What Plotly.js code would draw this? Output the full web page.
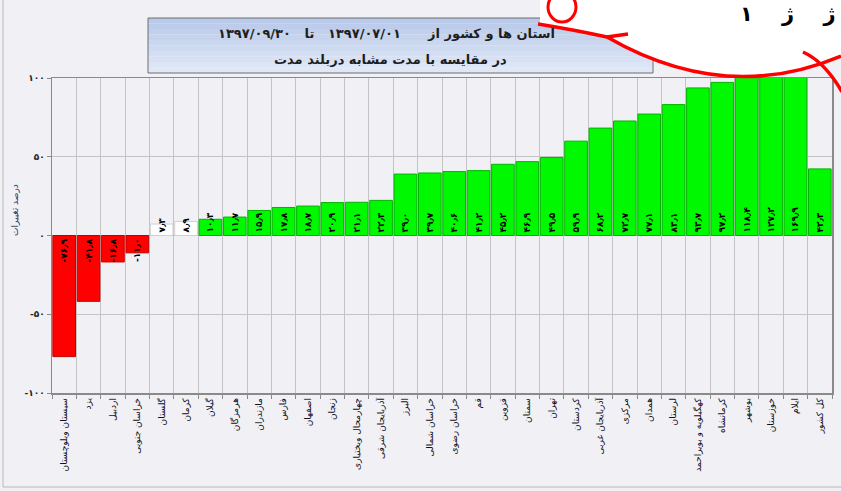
<!DOCTYPE html>
<html><head><meta charset="utf-8">
<script src="https://cdn.plot.ly/plotly-3.0.1.min.js"></script>
<style>html,body{margin:0;padding:0;background:#f1f0f5}</style>
</head><body>
<div id="chart" style="width:841px;height:491px"></div>
<script>
// ---- data ----
const provinces = ["سیستان وبلوچستان","یزد","اردبیل","خراسان جنوبی","گلستان","کرمان","گیلان","هرمزگان","مازندران","فارس","اصفهان","زنجان","چهارمحال وبختیاری","آذربایجان شرقی","البرز","خراسان شمالی","خراسان رضوی","قم","قزوین","سمنان","تهران","کردستان","آذربایجان غربی","مرکزی","همدان","لرستان","کهگیلویه و بویراحمد","کرمانشاه","بوشهر","خوزستان","ایلام","کل کشور"];
const changePct = [-76.9,-41.8,-16.8,-11.0,7.3,8.9,10.3,11.7,15.9,17.8,18.7,20.9,21.1,22.3,39.0,39.7,40.6,41.2,45.2,46.9,49.5,59.9,68.2,72.7,77.1,83.1,93.7,97.2,118.4,127.2,169.9,42.3];
const yTickVals = [-100,-50,0,50,100];
const titleLine1 = "استان ها و کشور از      ۱۳۹۷/۰۷/۰۱   تا   ۱۳۹۷/۰۹/۳۰";
const titleLine2 = "در مقایسه با مدت مشابه دربلند مدت";
const yTitle = "درصد تغییرات";
const overlayText = "ژ    ژ    ۱";

// ---- helpers ----
const faDigits = "۰۱۲۳۴۵۶۷۸۹";
function toFa(s){ return String(s).replace(/[0-9]/g, d => faDigits[+d]).replace(".", "٫"); }
const yTickText = yTickVals.map(v => toFa(v));
const labels = changePct.map(v => toFa(v.toFixed(1)));
const fills = changePct.map(v => v < 0 ? "#ff0000" : (v < 10 ? "#ffffff" : "#00f800"));
const edges = changePct.map(v => v < 0 ? "#c00000" : (v < 10 ? "#d0d0d0" : "#00b400"));

// pixel -> paper (plot area: x 52..832, y 78..393)
const L=52, R=832, T=78, B=393;
const px = x => (x-L)/(R-L);
const py = y => (B-y)/(B-T);

const FONT = "DejaVu Sans";
const shapes = [];
// title box gradient strips
const bx0=148, bx1=653, by0=18, by1=73, nStrip=10;
const c0=[184,201,233], c1=[224,232,246];
for(let i=0;i<nStrip;i++){
  const t=i/(nStrip-1);
  const c=c0.map((a,k)=>Math.round(a+(c1[k]-a)*t));
  shapes.push({type:"rect",xref:"paper",yref:"paper",layer:"above",
    x0:px(bx0),x1:px(bx1),y0:py(by0+(by1-by0)*i/nStrip),y1:py(by0+(by1-by0)*(i+1)/nStrip),
    fillcolor:`rgb(${c.join(",")})`,line:{width:0}});
}
shapes.push({type:"rect",xref:"paper",yref:"paper",layer:"above",
  x0:px(bx0),x1:px(bx1),y0:py(by1),y1:py(by0),fillcolor:"rgba(0,0,0,0)",line:{color:"#6e6e6e",width:1}});
// outer frame
shapes.push({type:"line",xref:"paper",yref:"paper",x0:px(3),x1:px(3),y0:py(0),y1:py(487),line:{color:"#b8b8b8",width:1}});
shapes.push({type:"line",xref:"paper",yref:"paper",x0:px(3),x1:px(841),y0:py(487),y1:py(487),line:{color:"#b8b8b8",width:1}});
// overlay scribble (white patch with red outline)
const P=(x,y)=>`${px(x)},${py(y)}`;
shapes.push({type:"path",xref:"paper",yref:"paper",layer:"above",
  path:`M ${P(540,-5)} L ${P(540,24)} Q ${P(575,30)} ${P(607,37)} Q ${P(725,105)} ${P(841,56)} L ${P(841,-5)} Z`,
  fillcolor:"#ffffff",line:{width:0}});
shapes.push({type:"path",xref:"paper",yref:"paper",layer:"above",
  path:`M ${P(538,24)} Q ${P(575,30)} ${P(607,37)} Q ${P(725,105)} ${P(841,56)}`,
  line:{color:"#ff0000",width:3.5}});
shapes.push({type:"path",xref:"paper",yref:"paper",layer:"above",
  path:`M ${P(607,37)} L ${P(628,34)}`,line:{color:"#ff0000",width:3.5}});
shapes.push({type:"path",xref:"paper",yref:"paper",layer:"above",
  path:`M ${P(803,52)} Q ${P(825,62)} ${P(842,92)}`,line:{color:"#ff0000",width:3.5}});
shapes.push({type:"circle",xref:"paper",yref:"paper",layer:"above",
  x0:px(548),x1:px(576),y0:py(-8),y1:py(22),line:{color:"#ff0000",width:3},fillcolor:"rgba(0,0,0,0)"});

const annotations = [
  {xref:"paper",yref:"paper",x:px(557),y:py(33),xanchor:"right",yanchor:"middle",showarrow:false,
   text:titleLine1,font:{family:FONT,size:13,weight:"bold",color:"#1e1e1e"}},
  {xref:"paper",yref:"paper",x:px(390),y:py(59),xanchor:"center",yanchor:"middle",showarrow:false,
   text:titleLine2,font:{family:FONT,size:13,weight:"bold",color:"#1e1e1e"}},
  {xref:"paper",yref:"paper",x:px(15),y:py(210),xanchor:"center",yanchor:"middle",showarrow:false,
   textangle:-90,text:yTitle,font:{family:FONT,size:9,color:"#2a3560"}},
  {xref:"paper",yref:"paper",x:px(838),y:py(0),xanchor:"right",yanchor:"top",showarrow:false,
   text:"<b>"+overlayText+"</b>",font:{family:FONT,size:21,color:"#000000"}}
];

const trace = {
  type:"bar", x:provinces, y:changePct, text:labels,
  textposition:"inside", insidetextanchor:"start", textangle:-90, constraintext:"none",
  textfont:{family:FONT,size:9,weight:"bold",color:"#000000"},
  marker:{color:fills,line:{color:edges,width:1}},
  hoverinfo:"skip", cliponaxis:true
};

const layout = {
  width:841, height:491,
  margin:{l:L,r:841-R,t:T,b:491-B,pad:0},
  paper_bgcolor:"#f1f0f5", plot_bgcolor:"#f1f0f5",
  bargap:0.07, showlegend:false,
  font:{family:FONT,color:"#222"},
  xaxis:{type:"category",tickson:"boundaries",showgrid:true,gridcolor:"#c4c4c4",gridwidth:1,
    ticks:"outside",ticklen:4,tickcolor:"#8a8a8a",tickangle:-90,
    tickfont:{family:FONT,size:9,color:"#101020"},
    showline:true,linecolor:"#8a8a8a",linewidth:1.5,mirror:true,automargin:false},
  yaxis:{range:[-100,100],tickvals:yTickVals,ticktext:yTickText,showgrid:true,gridcolor:"#c4c4c4",
    zeroline:true,zerolinecolor:"#b4b4b4",zerolinewidth:1,
    ticks:"outside",ticklen:4,tickcolor:"#8a8a8a",
    tickfont:{family:FONT,size:9,weight:"bold",color:"#222"},
    showline:true,linecolor:"#8a8a8a",linewidth:1.5,mirror:true,automargin:false},
  shapes:shapes, annotations:annotations
};

Plotly.newPlot("chart",[trace],layout,{displayModeBar:false,staticPlot:true});
</script>
</body></html>
